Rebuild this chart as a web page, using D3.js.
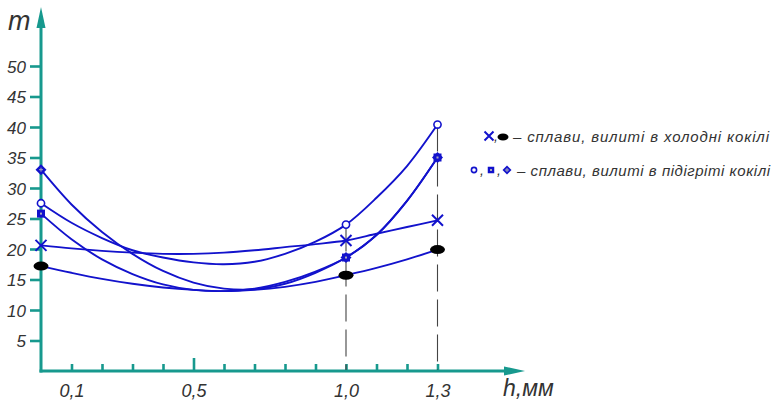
<!DOCTYPE html>
<html><head><meta charset="utf-8">
<script src="https://cdn.jsdelivr.net/npm/d3@7"></script>
<style>
html,body{margin:0;padding:0;background:#fff;}
svg text{font-family:"Liberation Sans Narrow","Liberation Sans",sans-serif;font-style:italic;fill:#333;}
</style></head>
<body>
<svg id="c" width="774" height="402"></svg>
<script>
// ---- data ----
const hValues = [0, 0.1, 0.2, 0.3, 0.4, 0.5, 0.6, 0.7, 0.8, 0.9, 1.0, 1.1, 1.2, 1.3];
const circleSeries  = [27.5, 24.3, 21.8, 19.8, 18.6, 17.8, 17.5, 17.9, 19.2, 21.2, 24.0, 28.4, 33.6, 40.4];
const squareSeries  = [25.8, 21.6, 18.3, 15.9, 14.2, 13.3, 13.1, 13.5, 14.6, 16.3, 18.6, 22.3, 27.9, 35.0];
const diamondSeries = [33.0, 27.3, 22.8, 19.2, 16.4, 14.5, 13.5, 13.4, 14.3, 16.1, 18.6, 22.3, 27.9, 35.0];
const crossSeries   = [20.6, 20.1, 19.7, 19.4, 19.2, 19.2, 19.4, 19.8, 20.3, 20.8, 21.4, 22.5, 23.6, 24.7];
const ellipseSeries = [17.2, 16.1, 15.1, 14.3, 13.7, 13.3, 13.1, 13.3, 13.8, 14.6, 15.7, 16.9, 18.3, 19.9];
const markerIdx = [0, 10, 13];          // h = 0, 1.0, 1.3
const dropIdx = [10, 13];               // dashed verticals
const yTickValues = [5, 10, 15, 20, 25, 30, 35, 40, 45, 50];
const xTickValues = [0.1, 0.2, 0.3, 0.4, 0.5, 0.6, 0.7, 0.8, 0.9, 1.0, 1.1, 1.2, 1.3];
const xTickLabels = {"0.1": "0,1", "0.5": "0,5", "1": "1,0", "1.3": "1,3"};
const yAxisTitle = "m";
const xAxisTitle = "h,мм";
const legendRows = ["– сплави, вилиті в холодні кокілі", "– сплави, вилиті в підігріті кокілі"];

// ---- drawing ----
const teal = "#17998e", blue = "#1212cc";
const svg = d3.select("#c");
const x = d3.scaleLinear().domain([0, 1.3]).range([41, 437.5]);
const y = d3.scaleLinear().domain([0, 50]).range([371, 66]);

// y axis
const ya = svg.append("g").attr("transform", "translate(41,0)")
  .call(d3.axisLeft(y).tickValues(yTickValues).tickSize(11).tickPadding(4).tickFormat(d3.format("d")));
ya.select(".domain").remove();
ya.selectAll(".tick line").attr("stroke", teal).attr("stroke-width", 2.6);
ya.selectAll(".tick text").attr("font-size", 17).attr("fill", "#333").attr("dy", "0.36em");
svg.append("line").attr("x1", 41).attr("x2", 41).attr("y1", y(0) + 1.5).attr("y2", 26)
  .attr("stroke", teal).attr("stroke-width", 3);
svg.append("path").attr("d", "M41,7 L45.5,28 L36.5,28 Z").attr("fill", teal);
svg.append("text").attr("x", 8).attr("y", 30).attr("font-size", 27).text(yAxisTitle);

// x axis
const xa = svg.append("g").attr("transform", `translate(0,${y(0)})`)
  .call(d3.axisBottom(x).tickValues(xTickValues).tickSizeInner(-7).tickSizeOuter(0).tickPadding(13)
    .tickFormat(d => xTickLabels[String(+d.toFixed(1))] || ""));
xa.select(".domain").remove();
xa.selectAll(".tick line").attr("stroke", teal).attr("stroke-width", 2.6)
  .attr("y2", d => Math.abs(d - 0.5) < 1e-6 ? -13 : -7);
xa.selectAll(".tick text").attr("font-size", 18).attr("fill", "#333").attr("dy", "0.71em");
svg.append("line").attr("x1", 39.5).attr("x2", 506).attr("y1", y(0)).attr("y2", y(0))
  .attr("stroke", teal).attr("stroke-width", 3);
svg.append("path").attr("d", `M525,${y(0)} L504,${y(0)-4.5} L504,${y(0)+4.5} Z`).attr("fill", teal);
svg.append("text").attr("x", 503).attr("y", 396).attr("font-size", 23).text(xAxisTitle);

// dashed drop lines
dropIdx.forEach(i => {
  const top = d3.max([circleSeries[i], squareSeries[i], diamondSeries[i], crossSeries[i], ellipseSeries[i]]);
  svg.append("line").attr("x1", x(hValues[i])).attr("x2", x(hValues[i]))
    .attr("y1", y(top)).attr("y2", y(0) - 1)
    .attr("stroke", "#444").attr("stroke-width", 1.1).attr("stroke-dasharray", "27,8");
});

// curves
const line = d3.line().x((d, i) => x(hValues[i])).y(d => y(d)).curve(d3.curveCatmullRom.alpha(0.5));
[circleSeries, squareSeries, diamondSeries, crossSeries, ellipseSeries].forEach(s => {
  svg.append("path").attr("d", line(s)).attr("fill", "none").attr("stroke", blue).attr("stroke-width", 1.9);
});

// markers
function drawCircle(g, cx, cy, r) {
  g.append("circle").attr("cx", cx).attr("cy", cy).attr("r", r).attr("fill", "#fff")
    .attr("stroke", blue).attr("stroke-width", 1.6);
}
function drawSquare(g, cx, cy, s) {
  g.append("rect").attr("x", cx - s/2).attr("y", cy - s/2).attr("width", s).attr("height", s).attr("fill", blue);
  g.append("rect").attr("x", cx - 1).attr("y", cy - 1).attr("width", 2).attr("height", 2).attr("fill", "#aab");
}
function drawDiamond(g, cx, cy, s) {
  g.append("path").attr("d", `M${cx},${cy-s} L${cx+s},${cy} L${cx},${cy+s} L${cx-s},${cy} Z`).attr("fill", blue);
  g.append("path").attr("d", `M${cx-2},${cy} H${cx+2} M${cx},${cy-2} V${cy+2}`).attr("stroke", "#aab").attr("stroke-width", 1);
}
function drawCross(g, cx, cy, s) {
  g.append("path").attr("d", `M${cx-s},${cy-s} L${cx+s},${cy+s} M${cx-s},${cy+s} L${cx+s},${cy-s}`)
    .attr("stroke", blue).attr("stroke-width", 2);
}
function drawEllipse(g, cx, cy, rx, ry) {
  g.append("ellipse").attr("cx", cx).attr("cy", cy).attr("rx", rx).attr("ry", ry).attr("fill", "#000");
}
const mg = svg.append("g");
markerIdx.forEach(i => {
  const cx = x(hValues[i]);
  drawEllipse(mg, cx, y(ellipseSeries[i]), 7.5, 4.5);
  drawCross(mg, cx, y(crossSeries[i]), 5.5);
  drawDiamond(mg, cx, y(diamondSeries[i]), 5.5);
  drawSquare(mg, cx, y(squareSeries[i]), 8);
  drawCircle(mg, cx, y(circleSeries[i]), 3.6);
});

// legend
const lg = svg.append("g");
drawCross(lg, 489, 136, 4.5);
lg.append("text").attr("x", 494).attr("y", 141).attr("font-size", 14).text(",");
drawEllipse(lg, 503, 137, 5.5, 3.5);
lg.append("text").attr("x", 513).attr("y", 142).attr("font-size", 15).attr("textLength", 256)
  .attr("lengthAdjust", "spacing").text(legendRows[0]);
drawCircle(lg, 474, 170, 2.6);
lg.append("text").attr("x", 480).attr("y", 175).attr("font-size", 14).text(",");
drawSquare(lg, 491, 170, 6.5);
lg.append("text").attr("x", 497).attr("y", 175).attr("font-size", 14).text(",");
drawDiamond(lg, 507, 170, 4.5);
lg.append("text").attr("x", 517).attr("y", 176).attr("font-size", 15).attr("textLength", 253)
  .attr("lengthAdjust", "spacing").text(legendRows[1]);
</script>
</body></html>
